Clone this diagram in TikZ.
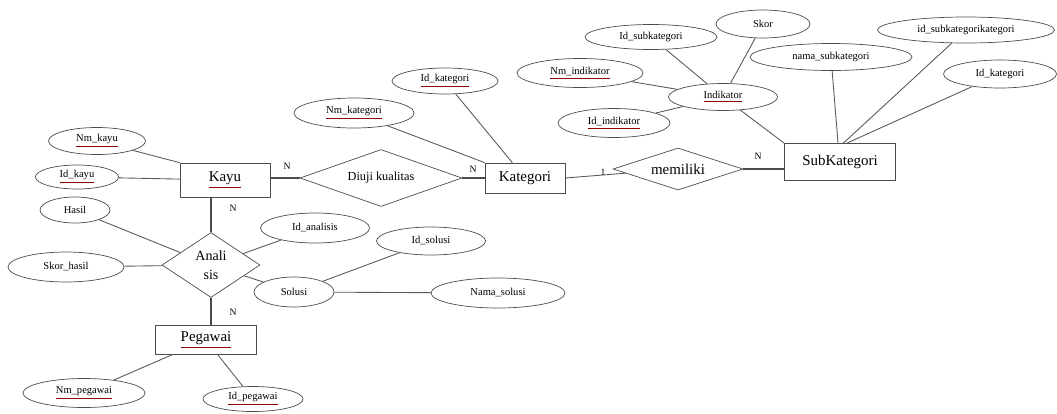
\documentclass[tikz,border=0pt]{standalone}
\usepackage{fontspec}
\setmainfont{Liberation Serif}
\usetikzlibrary{shapes.geometric}

\newcommand{\keyattr}[1]{\textcolor{red!55!black}{\underline{\textcolor{black}{#1}}}}

\tikzset{
  attr/.style={ellipse, draw=gray!60!black, inner sep=0pt, font=\fontsize{6}{7}\selectfont},
  entity/.style={rectangle, draw=gray!60!black, inner sep=0pt, font=\fontsize{8.5}{10}\selectfont},
  relation/.style={diamond, draw=gray!60!black, inner sep=0pt, aspect=2, font=\fontsize{7}{8}\selectfont},
  link/.style={draw=gray!70!black, line width=0.5pt},
  strong/.style={draw=gray!60!black, line width=1.5pt},
  card/.style={inner sep=0pt, font=\fontsize{5.5}{6}\selectfont}
}

\begin{document}
\begin{tikzpicture}[x=0.02cm, y=-0.02cm]
	\useasboundingbox (0,0) rectangle (1057,413);

	% Entitas
	\node[entity, minimum width=1.80cm, minimum height=0.68cm] (kayu) at (225,180) {\keyattr{Kayu}};
	\node[entity, minimum width=1.60cm, minimum height=0.60cm] (kategori) at (525,178) {Kategori};
	\node[entity, minimum width=2.22cm, minimum height=0.74cm] (subkat) at (840,162) {SubKategori};
	\node[entity, minimum width=2.02cm, minimum height=0.58cm] (pegawai) at (206,340) {\keyattr{Pegawai}};

	% Relasi
	\node[relation, minimum width=3.24cm, minimum height=1.14cm] (diuji) at (381,178) {Diuji kualitas};
	\node[relation, minimum width=2.60cm, minimum height=0.84cm, font=\fontsize{8.5}{10}\selectfont] (memiliki) at (678,169) {memiliki};
	\node[relation, minimum width=1.96cm, minimum height=1.30cm, align=center, font=\fontsize{8}{11}\selectfont] (analisis) at (211,265) {Anali\\sis};

	% Atribut Kayu
	\node[attr, minimum width=1.94cm, minimum height=0.54cm] (nmkayu) at (97,141) {\keyattr{Nm\_kayu}};
	\node[attr, minimum width=1.66cm, minimum height=0.48cm] (idkayu) at (77,177) {\keyattr{Id\_kayu}};

	% Atribut Analisis
	\node[attr, minimum width=1.40cm, minimum height=0.52cm] (hasil) at (75,210) {Hasil};
	\node[attr, minimum width=2.32cm, minimum height=0.60cm] (skorhasil) at (66,267) {Skor\_hasil};
	\node[attr, minimum width=2.18cm, minimum height=0.60cm] (idanalisis) at (315,228) {Id\_analisis};
	\node[attr, minimum width=1.60cm, minimum height=0.60cm] (solusi) at (294,292) {Solusi};
	\node[attr, minimum width=2.18cm, minimum height=0.56cm] (idsolusi) at (431,241) {Id\_solusi};
	\node[attr, minimum width=2.68cm, minimum height=0.60cm] (namasolusi) at (498,293) {Nama\_solusi};

	% Atribut Pegawai
	\node[attr, minimum width=2.44cm, minimum height=0.58cm] (nmpegawai) at (84,393) {\keyattr{Nm\_pegawai}};
	\node[attr, minimum width=2.00cm, minimum height=0.50cm] (idpegawai) at (253,399) {\keyattr{Id\_pegawai}};

	% Atribut Kategori
	\node[attr, minimum width=2.40cm, minimum height=0.60cm] (nmkategori) at (354,113) {\keyattr{Nm\_kategori}};
	\node[attr, minimum width=2.12cm, minimum height=0.52cm] (idkategori) at (445,81) {\keyattr{Id\_kategori}};

	% Atribut Indikator
	\node[attr, minimum width=2.18cm, minimum height=0.54cm] (indikator) at (723,97) {\keyattr{Indikator}};
	\node[attr, minimum width=2.52cm, minimum height=0.58cm] (nmindikator) at (580,73) {\keyattr{Nm\_indikator}};
	\node[attr, minimum width=2.24cm, minimum height=0.58cm] (idindikator) at (614,123) {\keyattr{Id\_indikator}};
	\node[attr, minimum width=2.64cm, minimum height=0.50cm] (idsubkategori) at (651,37) {Id\_subkategori};
	\node[attr, minimum width=1.88cm, minimum height=0.56cm] (skor) at (763,24) {Skor};

	% Atribut SubKategori
	\node[attr, minimum width=3.24cm, minimum height=0.54cm] (namasubkat) at (831,57) {nama\_subkategori};
	\node[attr, minimum width=3.54cm, minimum height=0.52cm] (idsubkatkat) at (966,30) {id\_subkategorikategori};
	\node[attr, minimum width=2.26cm, minimum height=0.56cm] (idkategorisub) at (1000,74) {Id\_kategori};

	% Kardinalitas
	\node[card] (nkayudiuji) at (287,166) {N};
	\node[card] (ndiujikat) at (473,169) {N};
	\node[card] (nkayuanalisis) at (233,208) {N};
	\node[card] (npegawai) at (233,312) {N};
	\node[card] (satukat) at (603,172) {1};
	\node[card] (nsubkat) at (758,156) {N};

	% Garis relasi
	\draw[strong] (diuji.west -| kayu.east) -- (diuji.west);
	\draw[strong] (diuji.east) -- (diuji.east -| kategori.west);
	\draw[link] (kategori.east) -- (memiliki);
	\draw[strong] (memiliki.east) -- (memiliki.east -| subkat.west);
	\draw[strong] (analisis.north |- kayu.south) -- (analisis.north);
	\draw[strong] (analisis.south) -- (analisis.south |- pegawai.north);

	% Garis atribut
	\draw[link] (nmkayu) -- (kayu.north west);
	\draw[link] (idkayu) -- (kayu);
	\draw[link] (hasil) -- (analisis);
	\draw[link] (skorhasil) -- (analisis);
	\draw[link] (idanalisis) -- (analisis);
	\draw[link] (solusi) -- (analisis);
	\draw[link] (solusi) -- (idsolusi);
	\draw[link] (solusi) -- (namasolusi);
	\draw[link] (pegawai) -- (nmpegawai);
	\draw[link] (pegawai) -- (idpegawai);
	\draw[link] (nmkategori) -- (kategori.north west);
	\draw[link] (idkategori) -- (kategori);
	\draw[link] (nmindikator) -- (indikator);
	\draw[link] (idindikator) -- (indikator);
	\draw[link] (idsubkategori) -- (indikator);
	\draw[link] (skor) -- (indikator);
	\draw[link] (indikator) -- (subkat.north west);
	\draw[link] (namasubkat) -- (subkat.96);
	\draw[link] (idsubkatkat) -- (subkat.80);
	\draw[link] (idkategorisub) -- (subkat.70);
\end{tikzpicture}
\end{document}
